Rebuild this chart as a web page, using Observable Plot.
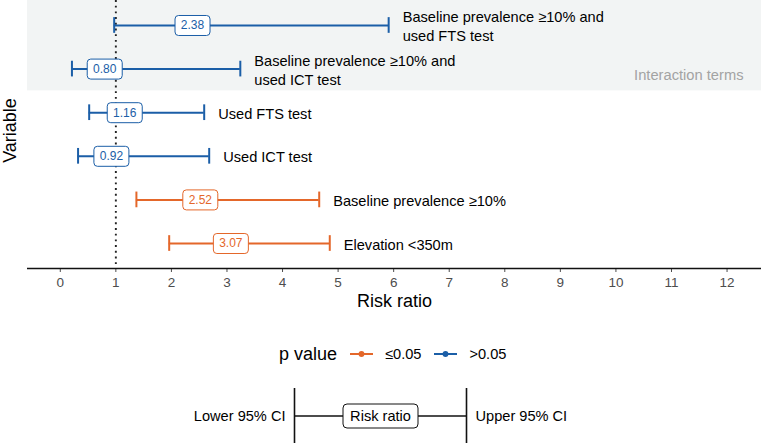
<!DOCTYPE html>
<html>
<head>
<meta charset="utf-8">
<script src="https://cdn.jsdelivr.net/npm/d3@7"></script>
<script src="https://cdn.jsdelivr.net/npm/@observablehq/plot@0.6"></script>
<style>
  html, body { margin: 0; padding: 0; background: white; }
  body { width: 761px; height: 443px; overflow: hidden; font-family: "Liberation Sans", Arial, sans-serif; }
  #main svg g[aria-label^="x-axis"] text { font-size: 13.5px !important; fill: #4d4d4d !important; }
  .legend { height: 68px; display: flex; justify-content: flex-start; align-items: center; color: #000; padding-left: 279px; box-sizing: border-box; }
  .legend .title { font-size: 18px; margin-right: 13px; }
  .legend .item { display: flex; align-items: center; font-size: 14.6px; margin-right: 13px; }
  .legend svg { margin-right: 12px; }
</style>
</head>
<body>
<div id="main"></div>
<div class="legend" id="legend"></div>
<div id="key"></div>
<script>
// ---- data ----
const variables = [
  "Baseline prevalence ≥10% and\nused FTS test",
  "Baseline prevalence ≥10% and\nused ICT test",
  "Used FTS test",
  "Used ICT test",
  "Baseline prevalence ≥10%",
  "Elevation <350m"
];
const riskRatio = [2.38, 0.80, 1.16, 0.92, 2.52, 3.07];
const lowerCI   = [0.97, 0.21, 0.52, 0.32, 1.37, 1.96];
const upperCI   = [5.91, 3.24, 2.59, 2.68, 4.66, 4.85];
const pValue    = [">0.05", ">0.05", ">0.05", ">0.05", "≤0.05", "≤0.05"];
const termType  = ["Interaction terms", "Interaction terms", "Main", "Main", "Main", "Main"];
const pLevels = ["≤0.05", ">0.05"];
const pColors = ["#e4672a", "#1b5ea7"];
const xTicks = [0, 1, 2, 3, 4, 5, 6, 7, 8, 9, 10, 11, 12];
const xDomain = [-0.59, 12.62];
const referenceRR = [1];
const xTitle = "Risk ratio";
const yTitle = "Variable";
const legendTitle = "p value";
const bandLabel = "Interaction terms";
const keyLabels = {lower: "Lower 95% CI", mid: "Risk ratio", upper: "Upper 95% CI"};

const rows = variables.map((v, i) => ({
  variable: v, row: i + 1, rr: riskRatio[i], lo: lowerCI[i], hi: upperCI[i], p: pValue[i], term: termType[i]
}));
const nInter = termType.filter(t => t === "Interaction terms").length;

const yPad = 0.573;
const capH = 0.18;
const FONT = "'Liberation Sans', Arial, sans-serif";

function roundBox(w, h, r) {
  return {
    draw(ctx) {
      const x0 = -w / 2, y0 = -h / 2, x1 = w / 2, y1 = h / 2;
      ctx.moveTo(x0 + r, y0);
      ctx.lineTo(x1 - r, y0);
      ctx.arcTo(x1, y0, x1, y0 + r, r);
      ctx.lineTo(x1, y1 - r);
      ctx.arcTo(x1, y1, x1 - r, y1, r);
      ctx.lineTo(x0 + r, y1);
      ctx.arcTo(x0, y1, x0, y1 - r, r);
      ctx.lineTo(x0, y0 + r);
      ctx.arcTo(x0, y0, x0 + r, y0, r);
      ctx.closePath();
    }
  };
}

const hasAxisMark = typeof Plot.axisX === "function";
const axisMarks = hasAxisMark
  ? [Plot.axisX({ticks: xTicks, tickSize: 4, tickPadding: 5, fontSize: 13.5, color: "#4d4d4d", label: null, tickFormat: d => String(d)})]
  : [];

const main = Plot.plot({
  width: 761,
  height: 320,
  marginLeft: 27,
  marginRight: 0,
  marginTop: 0,
  marginBottom: 52,
  style: {fontFamily: FONT, fontSize: "13px", background: "white", overflow: "visible"},
  x: {domain: xDomain, ticks: xTicks, tickSize: 4, tickPadding: 5, label: null, tickFormat: d => String(d)},
  y: {domain: [variables.length + yPad, 1 - yPad], axis: null},
  color: {domain: pLevels, range: pColors},
  marks: [
    Plot.rect([0], {y1: 1 - yPad, y2: nInter + 0.5, fill: "#f2f4f4"}),
    Plot.text([bandLabel], {frameAnchor: "top-right", dx: -18, dy: 75, fill: "#a3a3a3", fontSize: 14.7, textAnchor: "end", lineAnchor: "middle"}),
    Plot.ruleX(referenceRR, {stroke: "#222", strokeWidth: 1.9, strokeDasharray: "1.9,3.8"}),
    Plot.ruleY(rows, {y: "row", x1: "lo", x2: "hi", stroke: "p", strokeWidth: 2}),
    Plot.ruleX(rows, {x: "lo", y1: d => d.row - capH, y2: d => d.row + capH, stroke: "p", strokeWidth: 2}),
    Plot.ruleX(rows, {x: "hi", y1: d => d.row - capH, y2: d => d.row + capH, stroke: "p", strokeWidth: 2}),
    Plot.dot(rows, {x: "rr", y: "row", symbol: roundBox(35, 20, 3.5), fill: "white", stroke: "p", strokeWidth: 1}),
    Plot.text(rows, {x: "rr", y: "row", text: d => d.rr.toFixed(2), fill: "p", fontSize: 12}),
    Plot.text(rows, {x: "hi", y: "row", text: "variable", textAnchor: "start", dx: 14, fontSize: 14.6, lineHeight: 1.3, fill: "black"}),
    ...axisMarks,
    Plot.ruleY([variables.length + yPad], {stroke: "#111", strokeWidth: 1.5}),
    Plot.text([xTitle], {frameAnchor: "bottom", dy: 33, fontSize: 18, fill: "black", textAnchor: "middle", lineAnchor: "middle"}),
    Plot.text([yTitle], {frameAnchor: "left", rotate: -90, dx: -17, dy: -4, fontSize: 18, fill: "black", textAnchor: "middle", lineAnchor: "middle"})
  ]
});
document.getElementById("main").append(main);

// ---- legend ----
const legend = document.getElementById("legend");
const t = document.createElement("span");
t.className = "title";
t.textContent = legendTitle;
legend.append(t);
pLevels.forEach((lvl, i) => {
  const item = document.createElement("span");
  item.className = "item";
  item.innerHTML = `<svg width="23" height="10"><line x1="0" x2="23" y1="5" y2="5" stroke="${pColors[i]}" stroke-width="2"/><circle cx="11.5" cy="5" r="2.9" fill="${pColors[i]}"/></svg><span>${lvl}</span>`;
  legend.append(item);
});

// ---- key ----
const keyEnds = [0, 1];
const key = Plot.plot({
  width: 761,
  height: 55,
  marginLeft: 294,
  marginRight: 295,
  marginTop: 0,
  marginBottom: 0,
  style: {fontFamily: FONT, fontSize: "14.6px", background: "white", overflow: "visible"},
  x: {domain: [0, 1], axis: null},
  y: {domain: [0, 1], axis: null},
  marks: [
    Plot.ruleX(keyEnds, {stroke: "#111", strokeWidth: 1.6}),
    Plot.ruleY([0.5], {x1: 0, x2: 1, stroke: "#111", strokeWidth: 1.6}),
    Plot.dot([0.5], {x: d => d, y: 0.5, symbol: roundBox(75, 24, 4), fill: "white", stroke: "#111", strokeWidth: 1}),
    Plot.text([keyLabels.mid], {x: 0.5, y: 0.5, fill: "black"}),
    Plot.text([keyLabels.lower], {x: 0, y: 0.5, textAnchor: "end", dx: -9, fill: "black"}),
    Plot.text([keyLabels.upper], {x: 1, y: 0.5, textAnchor: "start", dx: 9, fill: "black"})
  ]
});
document.getElementById("key").append(key);
</script>
</body>
</html>
